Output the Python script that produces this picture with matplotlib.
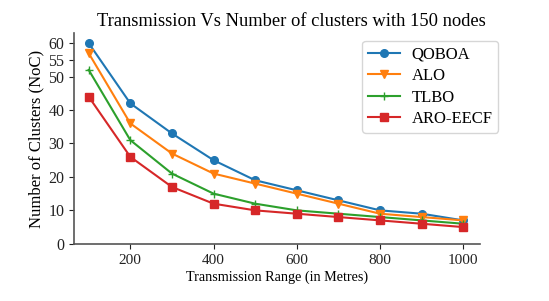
import matplotlib
matplotlib.use("Agg")
import matplotlib.pyplot as plt

x = [100, 200, 300, 400, 500, 600, 700, 800, 900, 1000]
qoboa = [60, 42, 33, 25, 19, 16, 13, 10, 9, 7]
alo = [57, 36, 27, 21, 18, 15, 12, 9, 8, 7]
tlbo = [52, 31, 21, 15, 12, 10, 9, 8, 7, 6]
aro = [44, 26, 17, 12, 10, 9, 8, 7, 6, 5]
yticks = [0, 10, 20, 30, 40, 50, 55, 60]
xticks = [200, 400, 600, 800, 1000]

plt.rcParams['font.family'] = ['Liberation Serif', 'DejaVu Serif']

fig = plt.figure(figsize=(5.49, 3.01), dpi=100)
ax = fig.add_axes([0.135, 0.19, 0.740, 0.70])

ax.plot(x, qoboa, marker='o', color='#1f77b4', label='QOBOA', ms=5.5, lw=1.5)
ax.plot(x, alo, marker='v', color='#ff7f0e', label='ALO', ms=5.5, lw=1.5)
ax.plot(x, tlbo, marker='+', color='#2ca02c', label='TLBO', ms=5.5, lw=1.5)
ax.plot(x, aro, marker='s', color='#d62728', label='ARO-EECF', ms=5.5, lw=1.5)

ax.set_xlim(65, 1041)
ax.set_ylim(0, 63)
ax.set_yticks(yticks)
ax.set_xticks(xticks)
ax.tick_params(axis='x', labelsize=11, colors='#222222')
ax.tick_params(axis='y', labelsize=11.5, colors='#222222')
for s in ['top', 'right']:
    ax.spines[s].set_visible(False)
for s in ['left', 'bottom']:
    ax.spines[s].set_color('#555555')
    ax.spines[s].set_linewidth(1.2)

ax.set_title('Transmission Vs Number of clusters with 150 nodes', fontsize=13.3, pad=5, x=0.534)
ax.set_xlabel('Transmission Range (in Metres)', fontsize=10.2, labelpad=3)
ax.set_ylabel('Number of Clusters (NoC)', fontsize=12, labelpad=3)
ax.legend(fontsize=12, loc='upper right', bbox_to_anchor=(1.044, 0.962), borderaxespad=0,
          borderpad=0.35, labelspacing=0.32, handlelength=1.9, handletextpad=0.7)

fig.savefig('out.png', dpi=100)
